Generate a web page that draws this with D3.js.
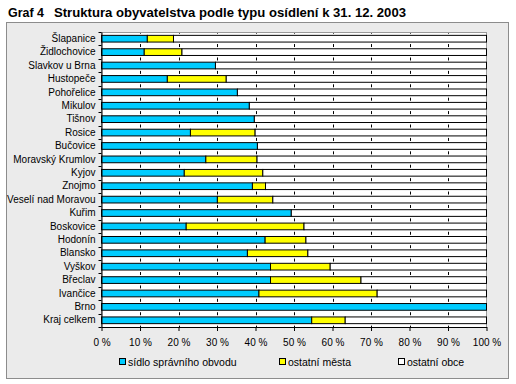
<html>
<head>
<meta charset="utf-8">
<script src="https://d3js.org/d3.v7.min.js"></script>
<style>
body { margin: 0; background: #fff; }
text { font-family: "Liberation Sans", Arial, sans-serif; fill: #000; }
</style>
</head>
<body>
<script>
// kategorie (shora dolu)
var okresy = ["Šlapanice", "Židlochovice", "Slavkov u Brna", "Hustopeče", "Pohořelice",
  "Mikulov", "Tišnov", "Rosice", "Bučovice", "Moravský Krumlov", "Kyjov", "Znojmo",
  "Veselí nad Moravou", "Kuřim", "Boskovice", "Hodonín", "Blansko", "Vyškov",
  "Břeclav", "Ivančice", "Brno", "Kraj celkem"];

// podíly v %
var sidlo  = [11.9, 11.1, 29.6, 17.1, 35.3, 38.4, 39.7, 23.1, 40.5, 27.1, 21.5, 39.2, 30.1, 49.3, 22.0, 42.5, 37.9, 43.9, 43.9, 40.9, 100, 54.6];
var mesta  = [6.8, 9.8, 0, 15.3, 0, 0, 0, 16.8, 0, 13.3, 20.4, 3.4, 14.4, 0, 30.6, 10.6, 15.7, 15.5, 23.5, 30.7, 0, 8.7];
var obce   = [81.3, 79.1, 70.4, 67.6, 64.7, 61.6, 60.3, 60.1, 59.5, 59.6, 58.1, 57.4, 55.5, 50.7, 47.4, 46.9, 46.4, 40.6, 32.6, 28.4, 0, 36.7];

var keys = ["sidlo", "mesta", "obce"];
var legenda = ["sídlo správního obvodu", "ostatní města", "ostatní obce"];
var barvy = ["#00ccff", "#ffff00", "#ffffff"];
var ticks = [0, 10, 20, 30, 40, 50, 60, 70, 80, 90, 100];

var w = 516, h = 384;
var plot = {left: 101.5, right: 486.5, top: 32, bottom: 327};

var data = okresy.map(function(d, i){
  return {okres: d, sidlo: sidlo[i], mesta: mesta[i], obce: obce[i]};
});

var svg = d3.select("body").append("svg").attr("width", w).attr("height", h);

// titulek
svg.append("text").attr("x", 8).attr("y", 17)
  .style("font-weight", "bold").style("font-size", "12.5px")
  .attr("textLength", 36).attr("lengthAdjust", "spacingAndGlyphs")
  .text("Graf 4");
svg.append("text").attr("x", 54).attr("y", 17)
  .style("font-weight", "bold").style("font-size", "12.5px")
  .attr("textLength", 352).attr("lengthAdjust", "spacingAndGlyphs")
  .text("Struktura obyvatelstva podle typu osídlení k 31. 12. 2003");

// panel
svg.append("rect").attr("x", 6.5).attr("y", 22.5).attr("width", 502).attr("height", 356)
  .attr("fill", "#ebebeb").attr("stroke", "#8c8c8c");

svg.append("rect").attr("x", plot.left).attr("y", plot.top + 0.5)
  .attr("width", plot.right - plot.left).attr("height", plot.bottom - plot.top)
  .attr("fill", "#fff").attr("stroke", "#9a9a9a");

var x = d3.scaleLinear().domain([0, 100]).range([plot.left, plot.right]);
var y = d3.scaleBand().domain(okresy).range([plot.top, plot.bottom])
  .paddingInner(0.5).paddingOuter(0.25);

// přerušované mřížky v mezerách
var step = y.step();
var y0 = y(okresy[0]);
var dashes = [];
d3.range(okresy.length + 1).forEach(function(k){
  var a = Math.max(plot.top + 1, y0 + k * step - 4.7);
  var b = Math.min(plot.bottom, y0 + k * step - 1.7);
  ticks.slice(1, -1).forEach(function(t){ dashes.push({t: t, a: a, b: b}); });
});
svg.append("g").selectAll("line").data(dashes).join("line")
  .attr("x1", function(d){ return Math.round(x(d.t)) + 0.5; })
  .attr("x2", function(d){ return Math.round(x(d.t)) + 0.5; })
  .attr("y1", function(d){ return d.a; })
  .attr("y2", function(d){ return d.b; })
  .attr("stroke", "#000");

// pruhy
var series = d3.stack().keys(keys)(data);
svg.append("g").selectAll("g").data(series).join("g")
  .attr("fill", function(d, i){ return barvy[i]; })
  .selectAll("rect").data(function(d){ return d.filter(function(s){ return s[1] - s[0] > 0; }); })
  .join("rect")
  .attr("x", function(d){ return x(d[0]); })
  .attr("y", function(d){ return y(d.data.okres); })
  .attr("width", function(d){ return x(d[1]) - x(d[0]); })
  .attr("height", y.bandwidth())
  .attr("stroke", "#000").attr("stroke-width", 1);

// osy
var xAxis = d3.axisBottom(x).tickValues(ticks).tickSize(4).tickSizeOuter(0)
  .tickFormat(function(d){ return d + " %"; });
var gx = svg.append("g").attr("transform", "translate(0," + plot.bottom + ")").call(xAxis);
gx.select(".domain").attr("stroke", "#000");
gx.selectAll("text").style("font-size", "10px").attr("dy", "1.2em")
  .style("font-family", "\"Liberation Sans\", Arial, sans-serif");

var yAxis = d3.axisLeft(y).tickSize(0).tickPadding(6);
var gy = svg.append("g").attr("transform", "translate(" + plot.left + ",0)").call(yAxis);
gy.select(".domain").attr("stroke", "#000");
gy.selectAll("text").style("font-size", "10px")
  .style("font-family", "\"Liberation Sans\", Arial, sans-serif");

// drobné značky mezi kategoriemi
svg.append("g").selectAll("line").data(d3.range(okresy.length + 1)).join("line")
  .attr("x1", plot.left - 3).attr("x2", plot.left)
  .attr("y1", function(k){ return Math.round(y0 - step * 0.25 + k * step) + 0.5; })
  .attr("y2", function(k){ return Math.round(y0 - step * 0.25 + k * step) + 0.5; })
  .attr("stroke", "#000");

// legenda
var lx = [119, 279, 398];
var lg = svg.append("g").selectAll("g").data(legenda).join("g")
  .attr("transform", function(d, i){ return "translate(" + lx[i] + ",358)"; });
lg.append("rect").attr("x", 0.5).attr("y", 0.5).attr("width", 6).attr("height", 6)
  .attr("fill", function(d, i){ return barvy[i]; }).attr("stroke", "#000");
lg.append("text").attr("x", 9).attr("y", 7.5).style("font-size", "10.5px")
  .text(function(d){ return d; });
</script>
</body>
</html>
